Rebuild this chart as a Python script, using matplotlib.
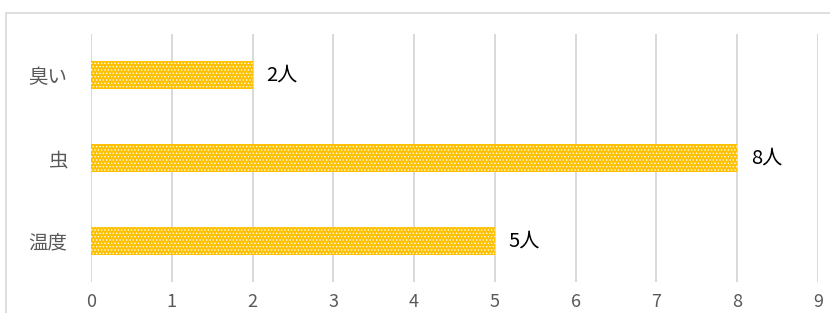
import matplotlib
matplotlib.use("Agg")
import matplotlib.pyplot as plt
from matplotlib.patches import Rectangle
from matplotlib.transforms import offset_copy

plt.rcParams['font.family'] = ['Noto Sans CJK JP', 'DejaVu Sans']
plt.rcParams['hatch.linewidth'] = 0.6

categories = ['温度', '虫', '臭い']
values = [5, 8, 2]
labels = ['5人', '8人', '2人']
xticks = list(range(0, 10))

W, H = 830, 313
fig = plt.figure(figsize=(W / 100, H / 100), dpi=100)

# outer chart border
fig.patches.append(Rectangle((5.5 / W, -0.1), 1.2, (H - 12.5) / H + 0.1,
                             transform=fig.transFigure, fill=False,
                             edgecolor='#d9d9d9', linewidth=1.2))

ax = fig.add_axes([91 / W, (H - 282) / H, (818 - 91) / W, (282 - 34) / H])
ax.set_xlim(0, 9)
ax.set_ylim(-0.5, 2.5)
ax.barh(range(len(categories)), values, height=0.34, color='#FFC000',
        edgecolor='white', linewidth=0, hatch='.....', zorder=2)

ax.set_xticks(xticks)
ax.set_yticks(range(len(categories)))
ax.set_yticklabels(categories, fontsize=14, color='#595959')
ax.tick_params(axis='both', length=0)
ax.tick_params(axis='x', labelsize=13, labelcolor='#595959', pad=8)
ax.tick_params(axis='y', pad=17)
ax.grid(axis='x', color='#d9d9d9', linewidth=1.4, zorder=0)
ax.set_axisbelow(True)
for s in ax.spines.values():
    s.set_visible(False)

tr = offset_copy(ax.transData, fig=fig, x=14, y=0, units='dots')
for i, (v, lab) in enumerate(zip(values, labels)):
    ax.text(v, i, lab, transform=tr, va='center', ha='left', fontsize=14.5,
            color='black')

fig.savefig('out.png', dpi=100)
